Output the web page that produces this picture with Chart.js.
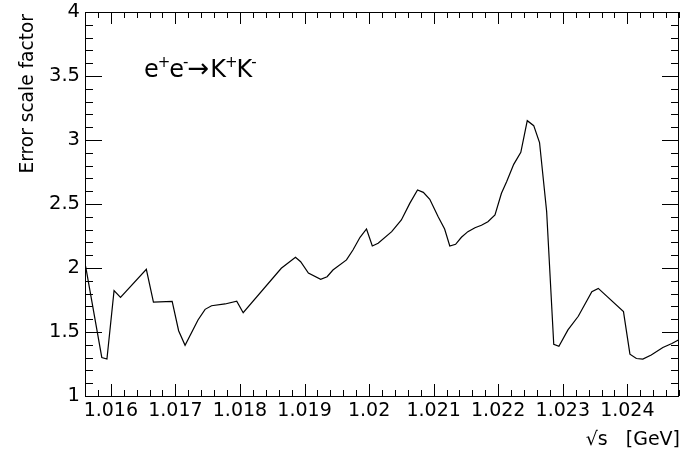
<!DOCTYPE html>
<html>
<head>
<meta charset="utf-8">
<script src="https://cdn.jsdelivr.net/npm/chart.js@4.4.1/dist/chart.umd.min.js"></script>
<style>
    html, body { margin: 0; padding: 0; background: #fff; }
    #wrap { width: 683px; height: 450px; }
</style>
</head>
<body>
<div id="wrap"><canvas id="chart" width="683" height="450"></canvas></div>
<script>
// ============================================================================
// Data
// ============================================================================
const sqrtS = [
    1.01561, 1.01586, 1.01594, 1.01605, 1.01615, 1.01655, 1.01666, 1.01695,
    1.01705, 1.01715, 1.01735, 1.01746, 1.01756, 1.01777, 1.01795, 1.01805,
    1.01864, 1.01886, 1.01894, 1.01906, 1.01925, 1.01935, 1.01944, 1.01965,
    1.01975, 1.01986, 1.01996, 1.02005, 1.02014, 1.02035, 1.02050, 1.02063,
    1.02075, 1.02084, 1.02094, 1.02107, 1.02117, 1.02125, 1.02134, 1.02143,
    1.02153, 1.02164, 1.02174, 1.02184, 1.02195, 1.02205, 1.02213, 1.02224,
    1.02235, 1.02245, 1.02255, 1.02264, 1.02275, 1.02286, 1.02294, 1.02308,
    1.02324, 1.02345, 1.02355, 1.02394, 1.02404, 1.02414, 1.02424, 1.02437,
    1.02455, 1.02469, 1.02479
];
const scaleFactor = [
    2.012, 1.301, 1.289, 1.823, 1.771, 1.990, 1.734, 1.740,
    1.510, 1.396, 1.594, 1.677, 1.705, 1.719, 1.740, 1.651,
    1.998, 2.084, 2.049, 1.961, 1.912, 1.932, 1.984, 2.063,
    2.141, 2.240, 2.305, 2.172, 2.193, 2.284, 2.375, 2.505,
    2.609, 2.591, 2.537, 2.401, 2.305, 2.172, 2.185, 2.240,
    2.284, 2.315, 2.334, 2.362, 2.414, 2.584, 2.674, 2.810,
    2.904, 3.151, 3.112, 2.980, 2.441, 1.404, 1.388, 1.516,
    1.623, 1.815, 1.841, 1.659, 1.327, 1.293, 1.288, 1.320,
    1.379, 1.410, 1.438
];

const xTickValues = [1.016, 1.017, 1.018, 1.019, 1.020, 1.021, 1.022, 1.023, 1.024];
const xTickLabels = ['1.016', '1.017', '1.018', '1.019', '1.02', '1.021', '1.022', '1.023', '1.024'];
const yTickValues = [1, 1.5, 2, 2.5, 3, 3.5, 4];
const yTickLabels = ['1', '1.5', '2', '2.5', '3', '3.5', '4'];

const X_MIN = 1.0156, X_MAX = 1.0248;
const Y_MIN = 1, Y_MAX = 4;
const FONT = '"DejaVu Sans", sans-serif';

// ============================================================================
// Frame, inner tick marks and text labels
// ============================================================================
const frameAndTicks = {
    id: 'frameAndTicks',
    afterDraw(chart) {
        const ctx = chart.ctx;
        const area = chart.chartArea;
        const xs = chart.scales.x;
        const ys = chart.scales.y;

        ctx.save();
        ctx.strokeStyle = '#000';
        ctx.lineWidth = 1;
        ctx.strokeRect(Math.round(area.left) + 0.5, Math.round(area.top) + 0.5,
            Math.round(area.right - area.left) - 1, Math.round(area.bottom - area.top));

        ctx.beginPath();
        // x axis: minor step 0.0002, major on labelled values
        const nx = Math.round((X_MAX - X_MIN) / 0.0002);
        for (let i = 0; i <= nx; i++) {
            const v = X_MIN + i * 0.0002;
            const major = xTickValues.some(t => Math.abs(t - v) < 1e-7);
            const len = major ? 12 : 6;
            const px = Math.round(xs.getPixelForValue(v)) + 0.5;
            ctx.moveTo(px, area.bottom);
            ctx.lineTo(px, area.bottom - len);
            ctx.moveTo(px, area.top);
            ctx.lineTo(px, area.top + len);
        }
        // y axis: minor step 0.1
        const ny = Math.round((Y_MAX - Y_MIN) / 0.1);
        for (let i = 0; i <= ny; i++) {
            const v = Y_MIN + i * 0.1;
            const major = yTickValues.some(t => Math.abs(t - v) < 1e-7);
            const len = major ? 17 : 8;
            const py = Math.round(ys.getPixelForValue(v)) + 0.5;
            ctx.moveTo(area.left, py);
            ctx.lineTo(area.left + len, py);
            ctx.moveTo(area.right, py);
            ctx.lineTo(area.right - len, py);
        }
        ctx.stroke();

        ctx.fillStyle = '#000';

        // y axis title, aligned to the top end of the axis
        ctx.save();
        ctx.translate(33, 14);
        ctx.rotate(-Math.PI / 2);
        ctx.font = '18.6px ' + FONT;
        ctx.textAlign = 'right';
        ctx.textBaseline = 'alphabetic';
        ctx.fillText('Error scale factor', 0, 0);
        ctx.restore();

        // x axis title
        ctx.font = '19px ' + FONT;
        ctx.textAlign = 'right';
        ctx.textBaseline = 'alphabetic';
        ctx.fillText('\u221As   [GeV]', 680, 445);

        // process label e+e- -> K+K-
        const parts = [
            ['e', 0], ['+', 1], ['e', 0], ['-', 1], ['\u2192', 2],
            ['K', 0], ['+', 1], ['K', 0], ['-', 1]
        ];
        let x = 144;
        const base = 77;
        ctx.textAlign = 'left';
        parts.forEach(([txt, kind]) => {
            if (kind === 1) {
                ctx.font = '15px ' + FONT;
                ctx.fillText(txt, x - 1, base - 10);
                x += ctx.measureText(txt).width - 2;
            } else {
                ctx.font = (kind === 2 ? '26px ' : '24px ') + FONT;
                ctx.fillText(txt, x, base);
                x += ctx.measureText(txt).width + (kind === 2 ? 1 : 0);
            }
        });
        ctx.restore();
    }
};

// ============================================================================
// Chart
// ============================================================================
const ctx = document.getElementById('chart').getContext('2d');
new Chart(ctx, {
    type: 'line',
    data: {
        datasets: [{
            data: sqrtS.map((s, i) => ({ x: s, y: scaleFactor[i] })),
            borderColor: '#000',
            borderWidth: 1.2,
            pointRadius: 0,
            tension: 0,
            fill: false
        }]
    },
    options: {
        responsive: false,
        animation: false,
        devicePixelRatio: 1,
        layout: { padding: { top: 12, right: 4, left: 0, bottom: 0 } },
        plugins: {
            legend: { display: false },
            tooltip: { enabled: false }
        },
        scales: {
            x: {
                type: 'linear',
                min: X_MIN,
                max: X_MAX,
                afterBuildTicks: s => { s.ticks = xTickValues.map(v => ({ value: v })); },
                afterFit: s => { s.height = 54; s.paddingLeft = 0; s.paddingRight = 0; },
                grid: { display: false, drawTicks: false },
                border: { display: false },
                ticks: {
                    autoSkip: false,
                    maxRotation: 0,
                    padding: 4,
                    color: '#000',
                    font: { family: FONT, size: 19 },
                    callback: (v, i) => xTickLabels[i]
                }
            },
            y: {
                min: Y_MIN,
                max: Y_MAX,
                afterBuildTicks: s => { s.ticks = yTickValues.map(v => ({ value: v })); },
                afterFit: s => { s.width = 85; s.paddingTop = 0; s.paddingBottom = 0; },
                grid: { display: false, drawTicks: false },
                border: { display: false },
                ticks: {
                    autoSkip: false,
                    padding: 5,
                    color: '#000',
                    font: { family: FONT, size: 19.5 },
                    callback: (v, i) => yTickLabels[i]
                }
            }
        }
    },
    plugins: [frameAndTicks]
});
</script>
</body>
</html>
